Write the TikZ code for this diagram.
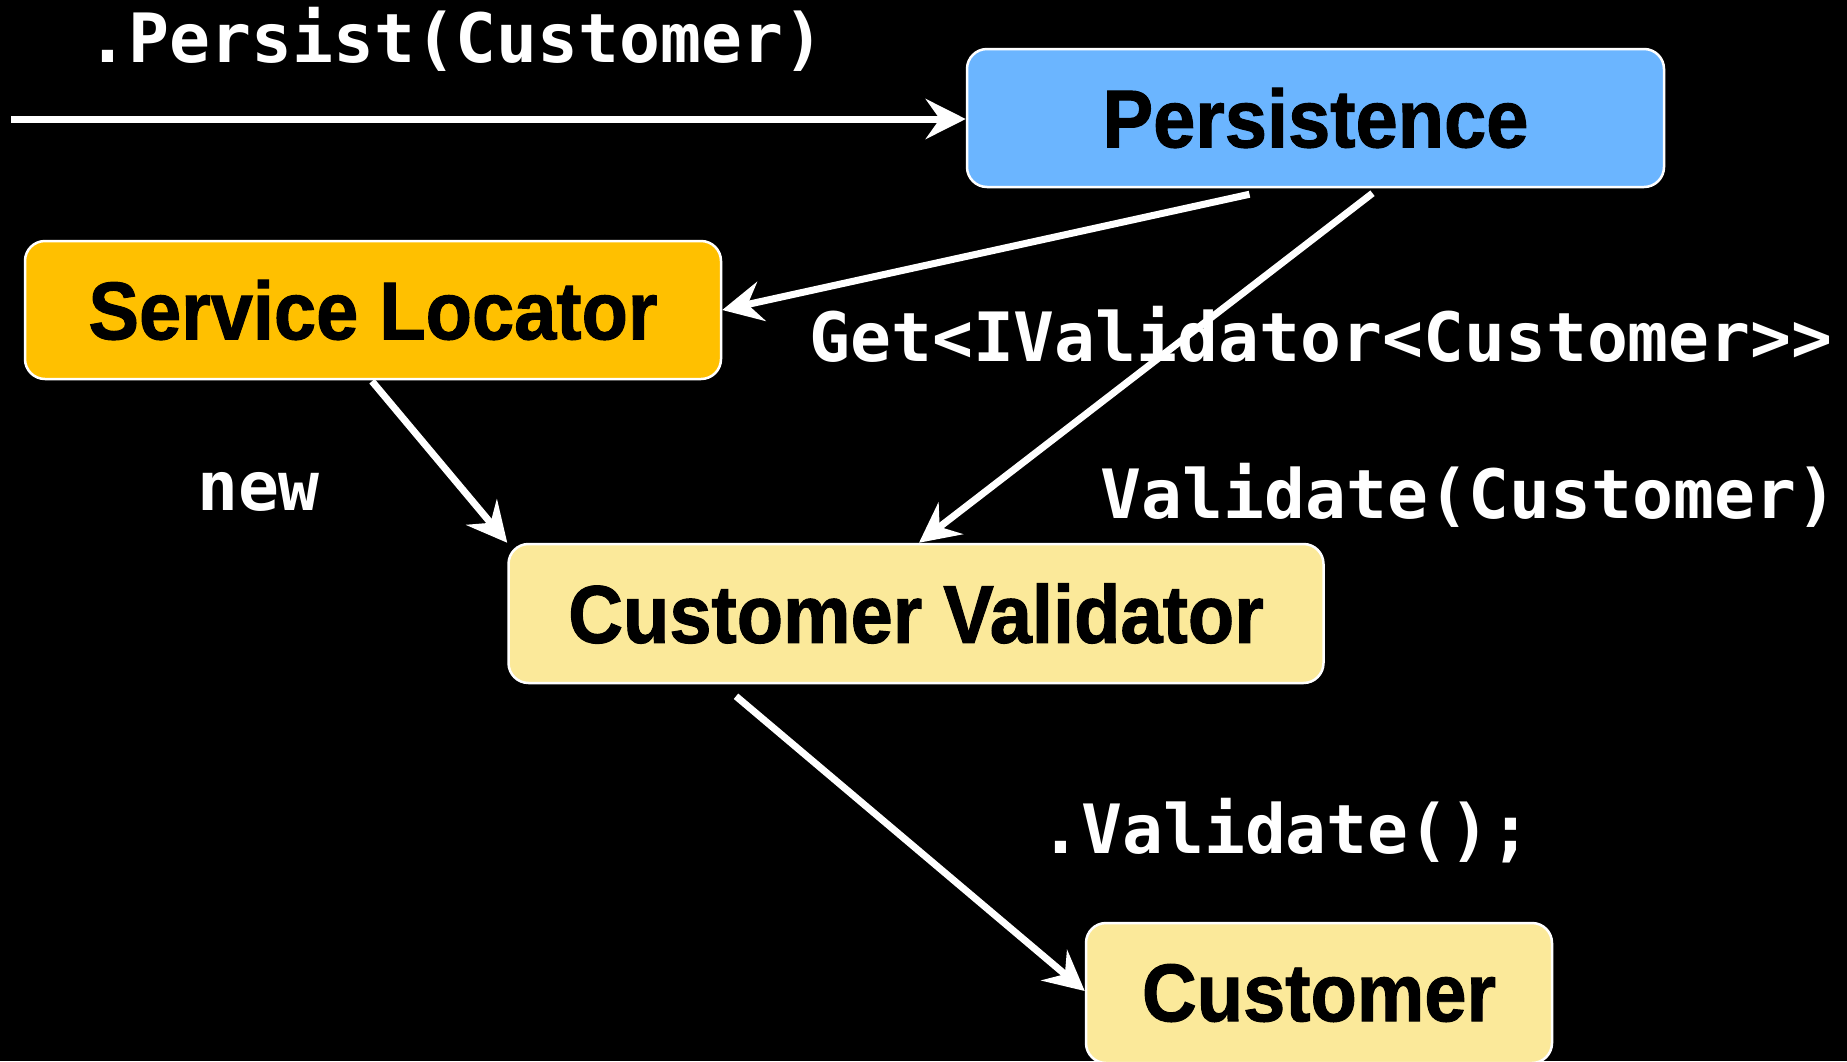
\documentclass[tikz,border=0pt]{standalone}
\usepackage{fontspec}
\usetikzlibrary{arrows.meta,calc}
\newfontfamily\boxfont{Liberation Sans}[FakeStretch=0.925,FakeBold=1.2]
\newfontfamily\codefont{DejaVu Sans Mono}
\definecolor{persblue}{HTML}{6BB5FF}
\definecolor{locamber}{HTML}{FFC000}
\definecolor{paleyel}{HTML}{FBE99A}
\begin{document}
\begin{tikzpicture}[x=1pt,y=-1pt,
  box/.style={draw=white, line width=2.5pt, rounded corners=20pt, inner sep=0pt,
    font=\boxfont\bfseries\fontsize{82}{90}\selectfont, text=black},
  lbl/.style={text=white, inner sep=0pt, anchor=base,
    font=\codefont\bfseries\fontsize{68}{76}\selectfont},
  conn/.style={draw=white, line width=7pt,
    -{Stealth[length=40pt,width=40pt,inset=14pt]}}
]
\fill[black] (0,0) rectangle (1847,1061);
\useasboundingbox (0,0) rectangle (1847,1061);

\node[box, fill=persblue, minimum width=697pt, minimum height=138pt] (pers) at (1315.5,118) {Persistence};
\node[box, fill=locamber, minimum width=696pt, minimum height=138pt] (sl) at (373,310) {Service Locator};
\node[box, fill=paleyel, minimum width=815pt, minimum height=139pt] (cv) at (916,613.5) {Customer Validator};
\node[box, fill=paleyel, minimum width=466pt, minimum height=140pt] (cust) at (1319,993) {Customer};

\node[lbl] (lpersist) at (456,62) {.Persist(Customer)};
\node[lbl] (lget) at (1321,361) {Get<IValidator<Customer>>};
\node[lbl] (lval) at (1469,518) {Validate(Customer)};
\node[lbl] (lnew) at (258.5,510) {new};
\node[lbl] (lvalidate) at (1286,853) {.Validate();};

\coordinate (in) at (11,119);
\draw[conn] (in) -- (pers.west |- in);
\draw[conn] ([shift={(-66,6)}]pers.south) -- (sl.east);
\draw[conn] ([shift={(57,5)}]pers.south) -- ([xshift=3pt]cv.north);
\draw[conn] ([shift={(-1,1)}]sl.south) -- (cv.north west);
\draw[conn] ([shift={(-180,12)}]cv.south) -- (cust.west |- 0,991);
\end{tikzpicture}
\end{document}
